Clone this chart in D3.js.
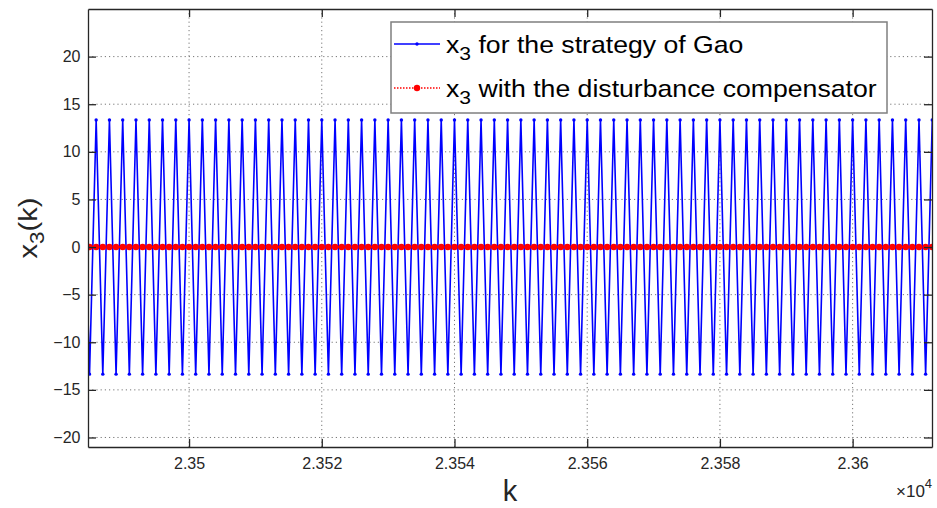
<!DOCTYPE html>
<html>
<head>
<meta charset="utf-8">
<script src="https://cdn.jsdelivr.net/npm/d3@7"></script>
<style>
  body { margin: 0; background: #fff; }
  text { font-family: "Liberation Sans", Arial, Helvetica, sans-serif; fill: #262626; }
</style>
</head>
<body>
<div id="chart"></div>
<script>
var svgWidth = 937;
var svgHeight = 508;

var margin = { top: 9, right: 5, bottom: 61, left: 88 };
var width = svgWidth - margin.left - margin.right;
var height = svgHeight - margin.top - margin.bottom;

// sample index k starts here, one value per step
var kStart = 23484;

// x3 for the strategy of Gao
var gaoValues = [
  13.35, -13.35, 13.35, -13.35, 13.35, -13.35, 13.35, -13.35, 13.35, -13.35, 13.35, -13.35, 13.35, -13.35, 13.35, -13.35,
  13.35, -13.35, 13.35, -13.35, 13.35, -13.35, 13.35, -13.35, 13.35, -13.35, 13.35, -13.35, 13.35, -13.35, 13.35, -13.35,
  13.35, -13.35, 13.35, -13.35, 13.35, -13.35, 13.35, -13.35, 13.35, -13.35, 13.35, -13.35, 13.35, -13.35, 13.35, -13.35,
  13.35, -13.35, 13.35, -13.35, 13.35, -13.35, 13.35, -13.35, 13.35, -13.35, 13.35, -13.35, 13.35, -13.35, 13.35, -13.35,
  13.35, -13.35, 13.35, -13.35, 13.35, -13.35, 13.35, -13.35, 13.35, -13.35, 13.35, -13.35, 13.35, -13.35, 13.35, -13.35,
  13.35, -13.35, 13.35, -13.35, 13.35, -13.35, 13.35, -13.35, 13.35, -13.35, 13.35, -13.35, 13.35, -13.35, 13.35, -13.35,
  13.35, -13.35, 13.35, -13.35, 13.35, -13.35, 13.35, -13.35, 13.35, -13.35, 13.35, -13.35, 13.35, -13.35, 13.35, -13.35,
  13.35, -13.35, 13.35, -13.35, 13.35, -13.35, 13.35, -13.35, 13.35, -13.35, 13.35, -13.35, 13.35, -13.35, 13.35, -13.35,
  13.35
];

// x3 with the disturbance compensator
var compValues = [
  0, 0, 0, 0, 0, 0, 0, 0, 0, 0, 0, 0, 0, 0, 0, 0,
  0, 0, 0, 0, 0, 0, 0, 0, 0, 0, 0, 0, 0, 0, 0, 0,
  0, 0, 0, 0, 0, 0, 0, 0, 0, 0, 0, 0, 0, 0, 0, 0,
  0, 0, 0, 0, 0, 0, 0, 0, 0, 0, 0, 0, 0, 0, 0, 0,
  0, 0, 0, 0, 0, 0, 0, 0, 0, 0, 0, 0, 0, 0, 0, 0,
  0, 0, 0, 0, 0, 0, 0, 0, 0, 0, 0, 0, 0, 0, 0, 0,
  0, 0, 0, 0, 0, 0, 0, 0, 0, 0, 0, 0, 0, 0, 0, 0,
  0, 0, 0, 0, 0, 0, 0, 0, 0, 0, 0, 0, 0, 0, 0, 0,
  0
];

var xTicks = [23500, 23520, 23540, 23560, 23580, 23600];
var yTicks = [-20, -15, -10, -5, 0, 5, 10, 15, 20];

var gaoData = gaoValues.map((v, i) => ({ k: kStart + i, v: v }));
var compData = compValues.map((v, i) => ({ k: kStart + i, v: v }));

var svg = d3.select("#chart")
  .append("svg")
  .attr("width", svgWidth)
  .attr("height", svgHeight);

var chartGroup = svg.append("g")
  .attr("transform", `translate(${margin.left}, ${margin.top})`);

var xScale = d3.scaleLinear()
  .domain([23484.77, 23611.96])
  .range([0, width]);

var yScale = d3.scaleLinear()
  .domain([-21, 25])
  .range([height, 0]);

// grid
chartGroup.append("g")
  .selectAll("line")
  .data(xTicks)
  .enter()
  .append("line")
  .attr("x1", d => xScale(d))
  .attr("x2", d => xScale(d))
  .attr("y1", 0)
  .attr("y2", height)
  .attr("stroke", "#777")
  .attr("stroke-width", 1)
  .attr("stroke-dasharray", "1.2,3");

chartGroup.append("g")
  .selectAll("line")
  .data(yTicks)
  .enter()
  .append("line")
  .attr("x1", 0)
  .attr("x2", width)
  .attr("y1", d => yScale(d))
  .attr("y2", d => yScale(d))
  .attr("stroke", "#777")
  .attr("stroke-width", 1)
  .attr("stroke-dasharray", "1.2,3");

// clip for the data
chartGroup.append("clipPath")
  .attr("id", "plotClip")
  .append("rect")
  .attr("width", width)
  .attr("height", height);

var plot = chartGroup.append("g").attr("clip-path", "url(#plotClip)");

var line = d3.line()
  .x(d => xScale(d.k))
  .y(d => yScale(d.v));

plot.append("path")
  .datum(gaoData)
  .attr("fill", "none")
  .attr("stroke", "#0000ff")
  .attr("stroke-width", 1.6)
  .attr("d", line);

plot.append("g")
  .selectAll("circle")
  .data(gaoData)
  .enter()
  .append("circle")
  .attr("cx", d => xScale(d.k))
  .attr("cy", d => yScale(d.v))
  .attr("r", 1.7)
  .attr("fill", "#0000ff");

plot.append("path")
  .datum(compData)
  .attr("fill", "none")
  .attr("stroke", "#ff0000")
  .attr("stroke-width", 1.5)
  .attr("stroke-dasharray", "1.5,1.5")
  .attr("d", line);

plot.append("g")
  .selectAll("circle")
  .data(compData)
  .enter()
  .append("circle")
  .attr("cx", d => xScale(d.k))
  .attr("cy", d => yScale(d.v))
  .attr("r", 3.2)
  .attr("fill", "#ff0000");

// axes
var xAxis = chartGroup.append("g")
  .attr("transform", `translate(0, ${height})`)
  .call(d3.axisBottom(xScale)
    .tickValues(xTicks)
    .tickSizeInner(-8)
    .tickSizeOuter(0)
    .tickPadding(11)
    .tickFormat(d => String(+(d / 1e4).toFixed(3))));

chartGroup.append("g")
  .call(d3.axisTop(xScale)
    .tickValues(xTicks)
    .tickSizeInner(-8)
    .tickSizeOuter(0)
    .tickFormat(""));

var yAxis = chartGroup.append("g")
  .call(d3.axisLeft(yScale)
    .tickValues(yTicks)
    .tickSizeInner(-8)
    .tickSizeOuter(0)
    .tickPadding(7.5));

chartGroup.append("g")
  .attr("transform", `translate(${width}, 0)`)
  .call(d3.axisRight(yScale)
    .tickValues(yTicks)
    .tickSizeInner(-8)
    .tickSizeOuter(0)
    .tickFormat(""));

chartGroup.selectAll(".domain, .tick line")
  .attr("stroke", "#262626")
  .attr("stroke-width", 1.3);

chartGroup.selectAll(".tick text")
  .attr("fill", "#262626")
  .style("font-size", "16px")
  .style("font-family", "'Liberation Sans', Arial, sans-serif");

// axis labels
svg.append("text")
  .attr("x", 510)
  .attr("y", 501)
  .attr("text-anchor", "middle")
  .style("font-size", "29px")
  .text("k");

var expLabel = svg.append("text")
  .attr("x", 896)
  .attr("y", 497)
  .style("font-size", "17px");
expLabel.append("tspan").text("\u00d710");
expLabel.append("tspan").attr("dy", -9).style("font-size", "13px").text("4");

// y label centred on the axes box
var yLabel = svg.append("text")
  .attr("transform", `translate(37, ${margin.top + height / 2}) rotate(-90) scale(1.12, 1)`)
  .attr("text-anchor", "middle")
  .style("font-size", "26px");
yLabel.append("tspan").text("x");
yLabel.append("tspan").attr("dy", 7).style("font-size", "20px").text("3");
yLabel.append("tspan").attr("dy", -7).text("(k)");

// legend
var legend = svg.append("g");

legend.append("rect")
  .attr("x", 391)
  .attr("y", 22)
  .attr("width", 496)
  .attr("height", 91)
  .attr("fill", "#fff")
  .attr("stroke", "#7f7f7f")
  .attr("stroke-width", 1.5);

var legendItems = [
  { label: "for the strategy of Gao", color: "#0000ff", dash: null, r: 1.7, y: 44 },
  { label: "with the disturbance compensator", color: "#ff0000", dash: "1.5,1.5", r: 3.2, y: 88 }
];

legendItems.forEach(function(item) {
  legend.append("line")
    .attr("x1", 394)
    .attr("x2", 440)
    .attr("y1", item.y)
    .attr("y2", item.y)
    .attr("stroke", item.color)
    .attr("stroke-width", 1.4)
    .attr("stroke-dasharray", item.dash);
  legend.append("circle")
    .attr("cx", 417)
    .attr("cy", item.y)
    .attr("r", item.r)
    .attr("fill", item.color);
  var t = legend.append("text")
    .attr("transform", `translate(446, ${item.y + 9}) scale(1.11, 1)`)
    .style("fill", "#000")
    .style("font-size", "24px");
  t.append("tspan").text("x");
  t.append("tspan").attr("dy", 7).style("font-size", "19px").text("3");
  t.append("tspan").attr("dy", -7).text(" " + item.label);
});
</script>
</body>
</html>
